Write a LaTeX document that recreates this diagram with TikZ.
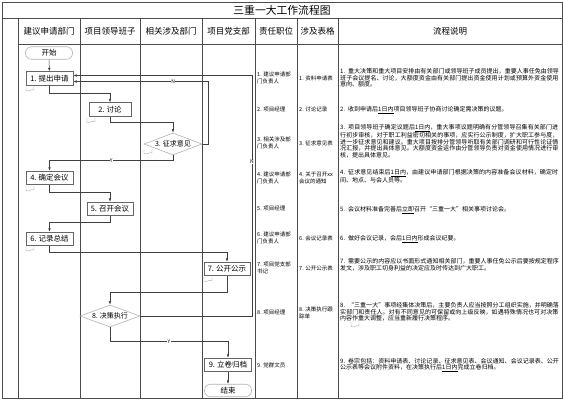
\documentclass[tikz,border=0pt]{standalone}
\usepackage{fontspec}
\setmainfont{Noto Sans CJK SC}
\XeTeXlinebreaklocale "zh"
\XeTeXlinebreakskip = 0pt plus 1pt
\usetikzlibrary{calc,arrows.meta,shapes.geometric}
\newcommand{\DocMark}[1]%
% position of the small document mark
{   \begin{scope}[shift={#1}, black!40, line width=0.35pt]
		\draw (0,0) -- (0,4.5) .. controls (2.5,6.5) and (5,2.5) .. (8,4) -- (8,0);
	\end{scope}
}

\begin{document}
\begin{tikzpicture}[x=1pt,y=-1pt,
	grid/.style={draw=black!70, line width=0.6pt},
	head/.style={font=\fontsize{8.5}{9}\selectfont},
	proc/.style={draw=black!60, line width=0.9pt, fill=white, minimum height=13.5pt, inner sep=1pt, font=\fontsize{7.5}{8}\selectfont},
	term/.style={draw=black!30, line width=0.6pt, rounded corners=6pt, minimum width=47pt, minimum height=12.5pt, inner sep=1pt, font=\fontsize{7.5}{8}\selectfont},
	decide/.style={diamond, draw=black!30, line width=0.6pt, aspect=2.6, inner sep=0pt, minimum width=58pt, minimum height=22pt, font=\fontsize{7}{8}\selectfont},
	flow/.style={draw=black!75, line width=0.5pt, -{Latex[length=3.5pt,width=2.6pt]}},
	tag/.style={font=\fontsize{5}{5}\selectfont, fill=white, inner sep=0.4pt},
	duty/.style={anchor=west, align=left, inner sep=0pt, font=\fontsize{5.5}{6.6}\selectfont},
	note/.style={anchor=west, align=left, inner sep=0pt, text width=219pt, font=\fontsize{6}{6.5}\selectfont}]
	\useasboundingbox (0,0) rectangle (564,400);
	% table
	\draw[grid] (2,2) rectangle (562,398);
	\draw[grid] (2,18) -- (562,18);
	\draw[grid] (18,44) -- (562,44);
	\foreach \x in {18,80,140,202,255,297,338}
	{\draw[grid] (\x,18) -- (\x,398); }
	\node[font=\fontsize{10.8}{12}\selectfont] (title) at (282,10) {三重一大工作流程图};
	\foreach \x/\t in {49/建议申请部门, 110/项目领导班子, 171/相关涉及部门, 228.5/项目党支部, 276/责任职位, 317.5/涉及表格, 450/流程说明}
	{\node[head] (hd-\x) at (\x,31) {\t}; }
	% steps
	\node[term] (start) at (49,53) {开始};
	\node[proc, minimum width=47pt] (s1) at (49.5,78.5) {1. 提出申请};
	\node[proc, minimum width=42pt] (s2) at (110,109.5) {2. 讨论};
	\node[decide] (s3) at (173,144) {3. 征求意见};
	\node[proc, minimum width=47pt] (s4) at (49.5,178) {4. 确定会议};
	\node[proc, minimum width=46pt] (s5) at (110,209) {5. 召开会议};
	\node[proc, minimum width=47pt] (s6) at (49.5,239) {6. 记录总结};
	\node[proc, minimum width=46pt] (s7) at (227,269) {7. 公开公示};
	\node[decide, minimum width=60pt] (s8) at (110,316) {8. 决策执行};
	\node[proc, minimum width=47pt] (s9) at (228,365) {9. 立卷归档};
	\node[term] (stop) at (228,390.5) {结束};
	\DocMark{(26,86)} \DocMark{(87,117.5)} \DocMark{(144,149)} \DocMark{(26,186)}
	\DocMark{(26,246)} \DocMark{(204,276.5)} \DocMark{(351,322)}
	% connectors
	\draw[flow] (start) -- (s1);
	\draw[flow] (s1.south) -- ++(0,7.5) -| (s2.north);
	\draw[flow] (s2.south) -- ++(0,6) -| (s3.north);
	\draw[flow] (s3.east) -- ++(6,0) |- node[tag,pos=0.63]{N} ($(s1.east)+(0,3)$);
	\draw[flow] (s3.south) -- ++(0,5) -| node[tag,pos=0.25]{Y} (s4.north);
	\draw[flow] (s4.south) -- ++(0,7) -| (s5.north);
	\draw[flow] (s5.south) -- ++(0,6) -| (s6.north);
	\draw[flow] (s6.south) -- ++(0,6.5) -| (s7.north);
	\draw[flow] (s7.south) -- ++(0,16) -| (s8.north);
	\draw[flow] (s8.south) -- ++(0,14) -| node[tag,pos=0.25]{Y} (s9.north);
	\coordinate (back) at (252,316);
	\draw[flow] (s8.east) -- (back) |- node[tag,pos=0.32]{N} ($(s1.east)+(0,-3)$);
	\draw[flow] (s9) -- (stop);
	% duties
	\node[duty] (r1) at (257,78) {1. 建议申请部\\门负责人};
	\node[duty] (r2) at (257,109.5) {2. 项目经理};
	\node[duty] (r3) at (257,143) {3. 相关涉及部\\门负责人};
	\node[duty] (r4) at (257,178) {4. 建议申请部\\门负责人};
	\node[duty] (r5) at (257,208.5) {5. 项目经理};
	\node[duty] (r6) at (257,238) {6. 建议申请部\\门负责人};
	\node[duty] (r7) at (257,268) {7. 项目党支部\\书记};
	\node[duty] (r8) at (257,312) {8. 项目经理};
	\node[duty] (r9) at (257,365) {9. 党群文员};
	% forms
	\node[duty] (f1) at (299,78) {1. 资料申请表};
	\node[duty] (f2) at (299,109.5) {2. 讨论记录};
	\node[duty] (f3) at (299,143) {3. 征求意见表};
	\node[duty] (f4) at (299,178) {4. 关于召开xx\\会议的通知};
	\node[duty] (f6) at (299,238) {6. 会议记录表};
	\node[duty] (f7) at (299,268) {7. 公开公示表};
	\node[duty] (f8) at (299,313) {8. 决策执行跟\\踪单};
	% notes
	\node[note] (n1) at (340,78) {1. 重大决策和重大项目安排由有关部门或领导班子成员提出，重要人事任免由领导班子会议提名、讨论，大额度资金由有关部门提出资金使用计划或预算外资金使用意向、额度。};
	\node[note] (n2) at (340,110) {2. 收到申请后\underline{1日内}项目领导班子协商讨论确定需决策的议题。};
	\node[note] (n3) at (340,141) {3. 项目领导班子确定议题后\underline{1日内}，重大事项议题明确有分管领导召集有关部门进行初步审核，对于职工利益密切相关的事项，应实行公示制度，扩大职工参与度，进一步征求意见和建议。重大项目按排分管领导听取有关部门调研和可行性论证情况汇报，并提出具体意见。大额度资金运作由分管领导负责对资金使用情况进行审核，提出具体意见。};
	\node[note] (n4) at (340,176) {4. 征求意见结束后\underline{1日内}，由建议申请部门根据决策的内容准备会议材料，确定时间、地点、与会人员等。};
	\node[note] (n5) at (340,210) {5. 会议材料准备完善后\underline{立即}召开“三重一大”相关事项讨论会。};
	\node[note] (n6) at (340,239) {6. 做好会议记录，会后\underline{1日内}形成会议纪要。};
	\node[note] (n7) at (340,265) {7. 需要公示的内容应以书面形式通知相关部门，重要人事任免公示后要按规定程序发文，涉及职工切身利益的决定应及时传达到广大职工。};
	\node[note] (n8) at (340,312) {8. “三重一大”事项经集体决策后，主要负责人应当按照分工组织实施，并明确落实部门和责任人。对有不同意见的可保留或向上级反映，如遇特殊情况也可对决策内容作重大调整，应当重新履行决策程序。};
	\node[note] (n9) at (340,365) {9. 卷宗包括：资料申请表、讨论记录、征求意见表、会议通知、会议记录表、公开公示表等会议附件资料，在决策执行后\underline{1日内}完成立卷归档。};
\end{tikzpicture}
\end{document}
